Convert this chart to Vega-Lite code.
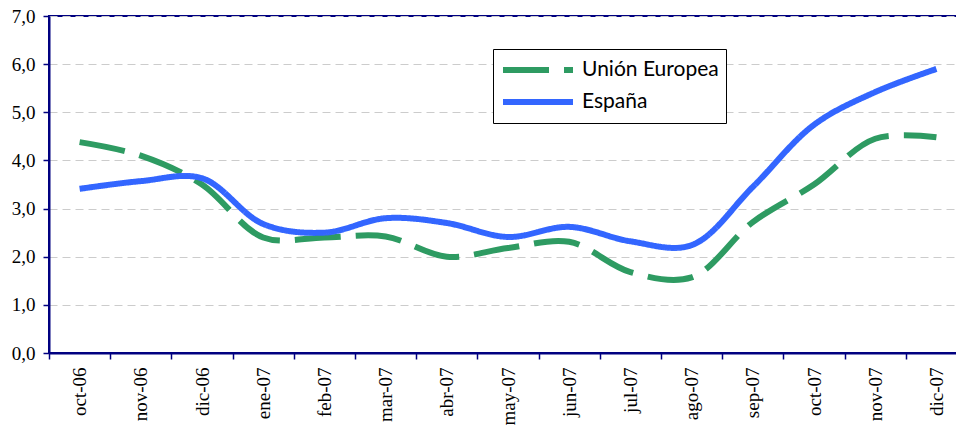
{
  "$schema": "https://vega.github.io/schema/vega-lite/v6.json",
  "autosize": {"type": "none"},
  "padding": {"left": 49, "top": 16, "right": 0, "bottom": 73},
  "width": 918,
  "height": 337,
  "background": "white",
  "config": {
    "view": {"stroke": "#000080", "strokeWidth": 2},
    "font": "Liberation Serif",
    "axis": {"labelFont": "Liberation Serif", "labelFontSize": 19, "labelColor": "black"}
  },
  "data": {
    "values": [
      {"mes": "oct-06", "serie": "Unión Europea", "valor": 4.38},
      {"mes": "nov-06", "serie": "Unión Europea", "valor": 4.1},
      {"mes": "dic-06", "serie": "Unión Europea", "valor": 3.5},
      {"mes": "ene-07", "serie": "Unión Europea", "valor": 2.4},
      {"mes": "feb-07", "serie": "Unión Europea", "valor": 2.4},
      {"mes": "mar-07", "serie": "Unión Europea", "valor": 2.42},
      {"mes": "abr-07", "serie": "Unión Europea", "valor": 2.0},
      {"mes": "may-07", "serie": "Unión Europea", "valor": 2.18},
      {"mes": "jun-07", "serie": "Unión Europea", "valor": 2.31},
      {"mes": "jul-07", "serie": "Unión Europea", "valor": 1.68},
      {"mes": "ago-07", "serie": "Unión Europea", "valor": 1.57},
      {"mes": "sep-07", "serie": "Unión Europea", "valor": 2.72},
      {"mes": "oct-07", "serie": "Unión Europea", "valor": 3.5},
      {"mes": "nov-07", "serie": "Unión Europea", "valor": 4.45},
      {"mes": "dic-07", "serie": "Unión Europea", "valor": 4.48},
      {"mes": "oct-06", "serie": "España", "valor": 3.41},
      {"mes": "nov-06", "serie": "España", "valor": 3.57},
      {"mes": "dic-06", "serie": "España", "valor": 3.63},
      {"mes": "ene-07", "serie": "España", "valor": 2.68},
      {"mes": "feb-07", "serie": "España", "valor": 2.5},
      {"mes": "mar-07", "serie": "España", "valor": 2.8},
      {"mes": "abr-07", "serie": "España", "valor": 2.7},
      {"mes": "may-07", "serie": "España", "valor": 2.41},
      {"mes": "jun-07", "serie": "España", "valor": 2.62},
      {"mes": "jul-07", "serie": "España", "valor": 2.32},
      {"mes": "ago-07", "serie": "España", "valor": 2.24},
      {"mes": "sep-07", "serie": "España", "valor": 3.45},
      {"mes": "oct-07", "serie": "España", "valor": 4.74},
      {"mes": "nov-07", "serie": "España", "valor": 5.42},
      {"mes": "dic-07", "serie": "España", "valor": 5.9}
    ]
  },
  "mark": {"type": "line", "interpolate": "catmull-rom", "strokeWidth": 6},
  "encoding": {
    "x": {
      "field": "mes",
      "type": "nominal",
      "sort": null,
      "scale": {"paddingInner": 0, "paddingOuter": 0},
      "axis": {
        "title": null,
        "tickBand": "extent",
        "domainColor": "#000080",
        "domainWidth": 2,
        "tickColor": "#000080",
        "tickWidth": 1.5,
        "tickSize": 6,
        "labelAngle": -90,
        "labelAlign": "right",
        "labelBaseline": "middle",
        "labelPadding": 8,
        "labelFont": "Liberation Serif",
        "labelFontSize": 19,
        "labelColor": "black",
        "grid": false
      }
    },
    "y": {
      "field": "valor",
      "type": "quantitative",
      "scale": {"domain": [0, 7], "nice": false},
      "axis": {
        "title": null,
        "values": [0, 1, 2, 3, 4, 5, 6, 7],
        "labelExpr": "replace(format(datum.value, '.1f'), '.', ',')",
        "domainColor": "#000080",
        "domainWidth": 2,
        "tickColor": "#000080",
        "tickWidth": 1.5,
        "tickSize": 6,
        "labelPadding": 8,
        "labelFont": "Liberation Serif",
        "labelFontSize": 19,
        "labelColor": "black",
        "grid": true,
        "gridColor": "#cccccc",
        "gridDash": [8, 5],
        "gridWidth": 1
      }
    },
    "color": {
      "field": "serie",
      "type": "nominal",
      "sort": ["Unión Europea", "España"],
      "scale": {"domain": ["Unión Europea", "España"], "range": ["#2E9B62", "#3366FF"]},
      "legend": {
        "title": null,
        "orient": "none",
        "legendX": 444,
        "legendY": 33,
        "direction": "vertical",
        "strokeColor": "black",
        "fillColor": "white",
        "padding": 7,
        "symbolType": "stroke",
        "symbolSize": 4900,
        "symbolStrokeWidth": 6,
        "clipHeight": 28,
        "rowPadding": 4,
        "labelFont": "Lato",
        "labelFontSize": 21,
        "labelColor": "black",
        "labelOffset": 6
      }
    },
    "strokeDash": {
      "field": "serie",
      "type": "nominal",
      "sort": ["Unión Europea", "España"],
      "scale": {"domain": ["Unión Europea", "España"], "range": [[46, 15], [1, 0]]},
      "legend": {
        "title": null,
        "orient": "none",
        "legendX": 444,
        "legendY": 33,
        "direction": "vertical",
        "strokeColor": "black",
        "fillColor": "white",
        "padding": 7,
        "symbolType": "stroke",
        "symbolSize": 4900,
        "symbolStrokeWidth": 6,
        "clipHeight": 28,
        "rowPadding": 4,
        "labelFont": "Lato",
        "labelFontSize": 21,
        "labelColor": "black",
        "labelOffset": 6
      }
    }
  }
}
